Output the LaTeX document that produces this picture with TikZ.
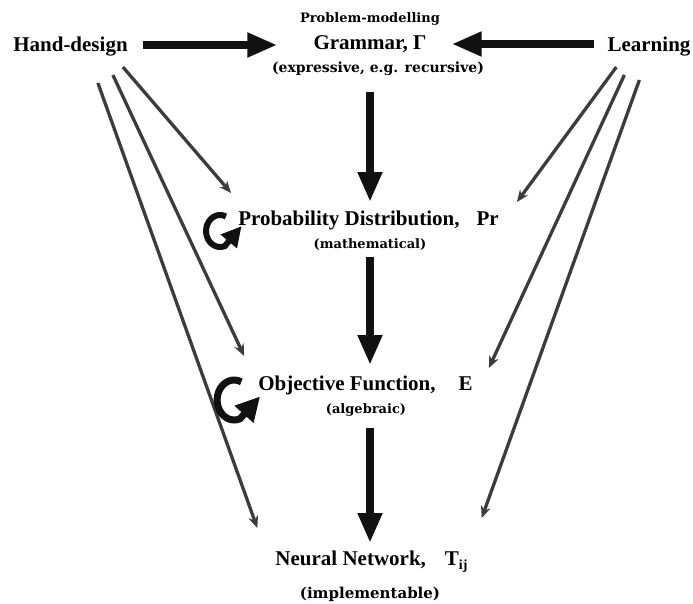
\documentclass[tikz,border=0pt]{standalone}
\usepackage{fontspec}
\setmainfont{Liberation Serif}
\newfontfamily\notefont{DejaVu Serif}
\usetikzlibrary{arrows.meta, calc}
\definecolor{ink}{HTML}{111111}
\definecolor{rope}{HTML}{3C3C3C}
\tikzset{
  stage/.style={inner sep=0pt, anchor=base, font=\fontsize{21}{24}\selectfont\bfseries},
  note/.style={inner sep=0pt, anchor=base, font=\fontsize{13}{15}\selectfont\notefont\bfseries},
  flow/.style={-{Triangle[length=30pt, width=23pt]}, line width=7.5pt, ink},
  feed/.style={-{Stealth[length=12pt, width=10pt]}, line width=3.3pt, rope},
  selfloop/.style={-{Triangle[length=20pt, width=20pt]}, line width=6pt, ink},
}

\begin{document}
\begin{tikzpicture}[x=1pt, y=-1pt]
\useasboundingbox (0,0) rectangle (693,603);

% the four levels
\node[note] (pm) at (370,22) {Problem-modelling};
\node[stage] (gram) at (370,49) {Grammar, Γ};
\node[note, font=\fontsize{14}{16}\selectfont\notefont\bfseries] (expr) at (378,72) {(expressive, e.g. recursive)};
\node[stage] (hand) at (70.5,51) {Hand-design};
\node[stage] (learn) at (649,51) {Learning};

\node[stage] (prob) at (368.5,225) {Probability Distribution,\hspace{17pt}Pr};
\node[note] (math) at (370,248) {(mathematical)};
\node[stage] (obj) at (365.5,390) {Objective Function,\hspace{23pt}E};
\node[note] (alg) at (366,413) {(algebraic)};
\node[stage] (nn) at (371.5,565) {Neural Network,\hspace{19pt}T\raisebox{-4pt}{\fontsize{14}{15}\selectfont ij}};
\node[note, font=\fontsize{15}{17}\selectfont\notefont\bfseries] (impl) at (370,598) {(implementable)};

% main chain
\draw[flow] ($(hand.base east)+(15,-6)$) -- ($(gram.base west)+(-36,-4)$);
\draw[flow] ($(learn.base west)+(-13,-7)$) -- ($(gram.base east)+(25,-5)$);
\draw[flow] ($(gram.base)+(0,43)$) -- ($(gram.base |- prob.base)+(0,-23)$);
\draw[flow] ($(gram.base |- prob.base)+(0,32)$) -- ($(gram.base |- obj.base)+(0,-25)$);
\draw[flow] ($(gram.base |- obj.base)+(0,38)$) -- ($(gram.base |- nn.base)+(0,-22)$);

% hand-design and learning feeds
\draw[feed] ($(hand.base east)+(-5,16)$) -- ($(prob.base west)+(-7,-32)$);
\draw[feed] ($(hand.base east)+(-15,24)$) -- ($(obj.base west)+(-14,-34)$);
\draw[feed] ($(hand.base east)+(-30,32)$) -- ($(nn.base west)+(-18,-37)$);
\draw[feed] ($(learn.base west)+(9,16)$) -- ($(prob.base east)+(18,-23)$);
\draw[feed] ($(learn.base west)+(17,24)$) -- ($(obj.base east)+(16,-22)$);
\draw[feed] ($(learn.base west)+(32,29)$) -- ($(nn.base east)+(14,-47)$);

% self loops
\draw[selfloop] ($(prob.base west)+(-18,6)$) ++({14*cos(-65)},{16*sin(-65)})
  arc[start angle=-65, end angle=-290, x radius=14, y radius=16] -- ++(-50:26);
\draw[selfloop, line width=7pt, -{Triangle[length=24pt, width=24pt]}] ($(obj.base west)+(-24,10)$) ++({17*cos(-65)},{20*sin(-65)})
  arc[start angle=-65, end angle=-290, x radius=17, y radius=20] -- ++(-48:30);
\end{tikzpicture}
\end{document}
